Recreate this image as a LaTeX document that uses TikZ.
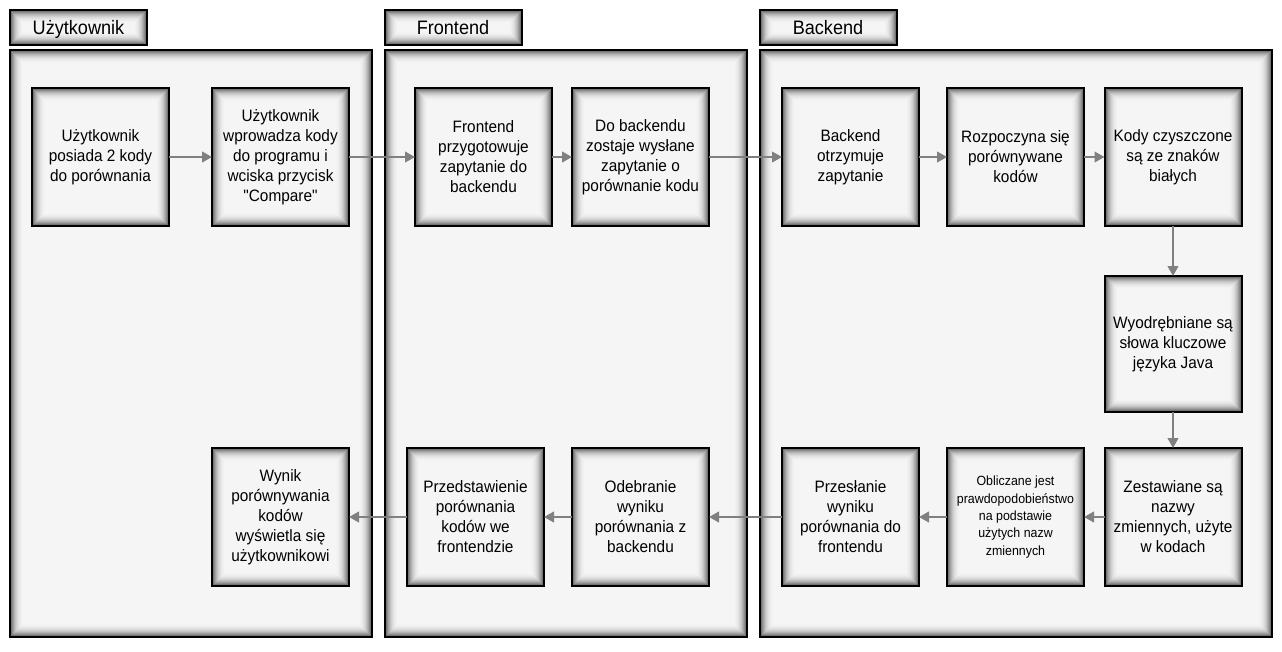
\documentclass[tikz,border=0pt]{standalone}
\usepackage{fontspec}
\setmainfont{Liberation Sans}[FakeStretch=0.93, Ligatures=TeXOff]
\usetikzlibrary{arrows.meta}
\tikzset{
  shadowfill/.style={path picture={
    \foreach \i/\c in {0/64,1/54,2/45,3/37,4/30,5/24,6/19,7/15,8/11.5,9/9,10/7,11/5.5,12/4.5,13/4}{
      \fill[black!\c] ([shift={(\i,\i)}]path picture bounding box.north west) rectangle ([shift={(-\i,-\i)}]path picture bounding box.south east);
    }}},
  lane/.style={shadowfill, draw=black, line width=1.5pt, inner sep=0pt, outer sep=0pt},
  header/.style={shadowfill, draw=black, line width=1.5pt, inner sep=0pt, outer sep=0pt,
    minimum width=102.75pt, minimum height=26.25pt, text height=12pt, text depth=1.5pt,
    font=\fontsize{14.6pt}{17pt}\selectfont},
  stepbox/.style={shadowfill, draw=black, line width=1.5pt, inner sep=0pt, outer sep=0pt,
    minimum width=102.75pt, minimum height=103.5pt, align=center,
    font=\fontsize{12.4pt}{15pt}\selectfont},
  smalltext/.style={font=\fontsize{10pt}{13pt}\selectfont},
  flow/.style={draw=black!50, line width=1.5pt, -{Triangle[length=7.5pt,width=8pt]}},
}
\begin{document}
\begin{tikzpicture}[x=0.75pt,y=-0.75pt]
\useasboundingbox (0,0) rectangle (1282,651);
% lanes
\node[lane, minimum width=271.5pt, minimum height=440.25pt] (L1) at (191,343.5) {};
\node[lane, minimum width=271.5pt, minimum height=440.25pt] (L2) at (566,343.5) {};
\node[lane, minimum width=384pt, minimum height=440.25pt] (L3) at (1016,343.5) {};
% headers
\node[header] (H1) at (78.5,27.5) {Użytkownik};
\node[header] (H2) at (453,27.5) {Frontend};
\node[header] (H3) at (828,27.5) {Backend};
% top row
\node[stepbox] (b1) at (100.5,157) {Użytkownik\\posiada 2 kody\\do porównania};
\node[stepbox] (b2) at (280.5,157) {Użytkownik\\wprowadza kody\\do programu i\\wciska przycisk\\"Compare"};
\node[stepbox] (b3) at (483.5,157) {Frontend\\przygotowuje\\zapytanie do\\backendu};
\node[stepbox] (b4) at (640.5,157) {Do backendu\\zostaje wysłane\\zapytanie o\\porównanie kodu};
\node[stepbox] (b5) at (850.5,157) {Backend\\otrzymuje\\zapytanie};
\node[stepbox] (b6) at (1015.5,157) {Rozpoczyna się\\porównywane\\kodów};
\node[stepbox] (b7) at (1173,157) {Kody czyszczone\\są ze znaków\\białych};
% middle
\node[stepbox, minimum height=102pt] (b8) at (1173,344) {Wyodrębniane są\\słowa kluczowe\\języka Java};
% bottom row
\node[stepbox] (b9) at (1173,517) {Zestawiane są\\nazwy\\zmiennych, użyte\\w kodach};
\node[stepbox, smalltext] (b10) at (1015.5,517) {Obliczane jest\\prawdopodobieństwo\\na podstawie\\użytych nazw\\zmiennych};
\node[stepbox] (b11) at (850.5,517) {Przesłanie\\wyniku\\porównania do\\frontendu};
\node[stepbox] (b12) at (640.5,517) {Odebranie\\wyniku\\porównania z\\backendu};
\node[stepbox] (b13) at (475.5,517) {Przedstawienie\\porównania\\kodów we\\frontendzie};
\node[stepbox] (b14) at (280.5,517) {Wynik\\porównywania\\kodów\\wyświetla się\\użytkownikowi};
% connectors
\draw[flow] (b1) -- (b2);
\draw[flow] (b2) -- (b3);
\draw[flow] (b3) -- (b4);
\draw[flow] (b4) -- (b5);
\draw[flow] (b5) -- (b6);
\draw[flow] (b6) -- (b7);
\draw[flow] (b7) -- (b8);
\draw[flow] (b8) -- (b9);
\draw[flow] (b9) -- (b10);
\draw[flow] (b10) -- (b11);
\draw[flow] (b11) -- (b12);
\draw[flow] (b12) -- (b13);
\draw[flow] (b13) -- (b14);
\end{tikzpicture}
\end{document}
